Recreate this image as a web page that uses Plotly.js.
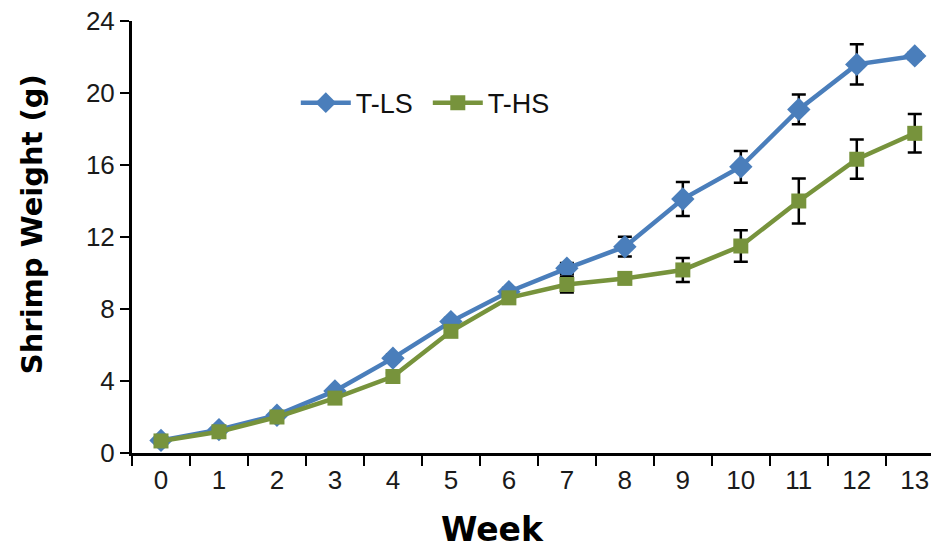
<!DOCTYPE html>
<html>
<head>
<meta charset="utf-8">
<script src="https://cdn.plot.ly/plotly-3.0.1.min.js"></script>
<style>html,body{margin:0;padding:0;background:#fff;}#chart{width:931px;height:548px;}</style>
</head>
<body>
<div id="chart"></div>
<script>
const weeks = ['0','1','2','3','4','5','6','7','8','9','10','11','12','13'];
const tlsWeight = [0.7, 1.3, 2.1, 3.45, 5.27, 7.3, 8.96, 10.26, 11.46, 14.11, 15.9, 19.09, 21.59, 22.06];
const tlsError  = [0.1, 0.1, 0.1, 0.15, 0.2, 0.2, 0.2, 0.3, 0.55, 0.95, 0.88, 0.83, 1.12, 0.2];
const thsWeight = [0.67, 1.18, 2.0, 3.05, 4.25, 6.76, 8.62, 9.36, 9.7, 10.17, 11.5, 14.0, 16.32, 17.76];
const thsError  = [0.1, 0.1, 0.1, 0.15, 0.2, 0.2, 0.2, 0.45, 0.3, 0.67, 0.88, 1.25, 1.09, 1.07];
const tickFont = {family: 'Liberation Sans, Arial, sans-serif', size: 26, color: '#1a1a1a'};
const titleFont = {family: 'DejaVu Sans, sans-serif', size: 33, color: '#000', weight: 'bold'};

const traces = [
  {
    x: weeks, y: tlsWeight, name: 'T-LS', type: 'scatter', mode: 'lines+markers',
    line: {color: '#4A7EBB', width: 4.5},
    marker: {symbol: 'diamond', size: 18, color: '#4A7EBB'},
    error_y: {type: 'data', array: tlsError, visible: true, color: '#000', thickness: 2.5, width: 7}
  },
  {
    x: weeks, y: thsWeight, name: 'T-HS', type: 'scatter', mode: 'lines+markers',
    line: {color: '#77933C', width: 4.5},
    marker: {symbol: 'square', size: 15, color: '#77933C'},
    error_y: {type: 'data', array: thsError, visible: true, color: '#000', thickness: 2.5, width: 7}
  }
];

const layout = {
  width: 931, height: 548,
  margin: {l: 132, r: 0, t: 21, b: 95},
  paper_bgcolor: '#fff', plot_bgcolor: '#fff',
  showlegend: true,
  legend: {orientation: 'h', x: 0.205, y: 0.81, xanchor: 'left', yanchor: 'middle',
           itemwidth: 50, entrywidth: 67, entrywidthmode: 'pixels',
           font: {family: 'Liberation Sans, Arial, sans-serif', size: 27, color: '#111'},
           bgcolor: 'rgba(0,0,0,0)', traceorder: 'normal'},
  xaxis: {
    type: 'category', categoryorder: 'array', categoryarray: weeks,
    range: [-0.5, 13.28], tickson: 'boundaries',
    showgrid: false, zeroline: false, showline: true, linecolor: '#000', linewidth: 3,
    ticks: 'outside', ticklen: 10, tickwidth: 2.5, tickcolor: '#000',
    tickfont: tickFont, ticklabelstandoff: 2
  },
  yaxis: {
    range: [0, 24], tickvals: [0, 4, 8, 12, 16, 20, 24],
    showgrid: false, zeroline: false, showline: true, linecolor: '#000', linewidth: 3,
    ticks: 'outside', ticklen: 9, tickwidth: 2.5, tickcolor: '#000',
    tickfont: tickFont
  },
  annotations: [
    {text: 'Week', xref: 'paper', yref: 'paper', x: 0.4506, y: -0.178,
     xanchor: 'center', yanchor: 'middle', showarrow: false, font: titleFont},
    {text: 'Shrimp Weight (g)', xref: 'paper', yref: 'paper', x: -0.125, y: 0.53,
     xanchor: 'center', yanchor: 'middle', textangle: -90, showarrow: false,
     font: Object.assign({}, titleFont, {size: 29})}
  ]
};

Plotly.newPlot('chart', traces, layout, {displayModeBar: false, staticPlot: true});
</script>
</body>
</html>
